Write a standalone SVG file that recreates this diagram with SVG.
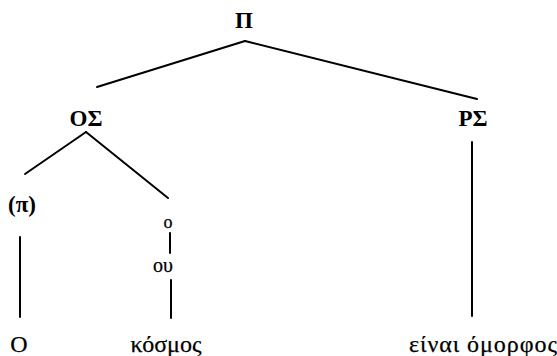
<svg xmlns="http://www.w3.org/2000/svg" width="557" height="356" viewBox="0 0 557 356">
<style>
.lbl{font-family:"Liberation Serif","DejaVu Serif",serif;font-size:24px;fill:#000;text-anchor:middle}
.b{font-weight:bold}
.w{stroke:#000;stroke-width:0.25}
.e{stroke:#000;stroke-width:2;fill:none;stroke-linecap:round}
</style>
<rect width="557" height="356" fill="#fff"/>
<g id="connectors">
<line class="e" x1="245" y1="41" x2="97" y2="87"/>
<line class="e" x1="245" y1="41" x2="477" y2="99"/>
<line class="e" x1="86" y1="132" x2="25" y2="174"/>
<line class="e" x1="86" y1="132" x2="168" y2="198"/>
<line class="e" x1="472" y1="142" x2="472" y2="316"/>
<line class="e" x1="20" y1="237" x2="20" y2="317"/>
<line class="e" x1="170" y1="233" x2="170" y2="253"/>
<line class="e" x1="171" y1="280" x2="171" y2="318"/>
</g>
<g id="n-P"><text class="lbl b" x="244" y="28" style="font-size:23px">Π</text></g>
<g id="n-OS"><text class="lbl b" x="86" y="126" style="font-size:23px">ΟΣ</text></g>
<g id="n-RS"><text class="lbl b" x="473" y="126" style="font-size:23px">ΡΣ</text></g>
<g id="n-pi"><text class="lbl b" x="22" y="212" style="font-size:23px">(π)</text></g>
<g id="n-o"><text class="lbl w" x="168" y="228" style="font-size:18px">ο</text></g>
<g id="n-ou"><text class="lbl w" x="163" y="272" style="font-size:20px">ου</text></g>
<g id="n-O"><text class="lbl w" x="19" y="352">Ο</text></g>
<g id="n-kosmos"><text class="lbl w" x="166" y="352">κόσμος</text></g>
<g id="n-einai"><text class="lbl w" x="483" y="352" textLength="148" lengthAdjust="spacing">είναι όμορφος</text></g>
</svg>
